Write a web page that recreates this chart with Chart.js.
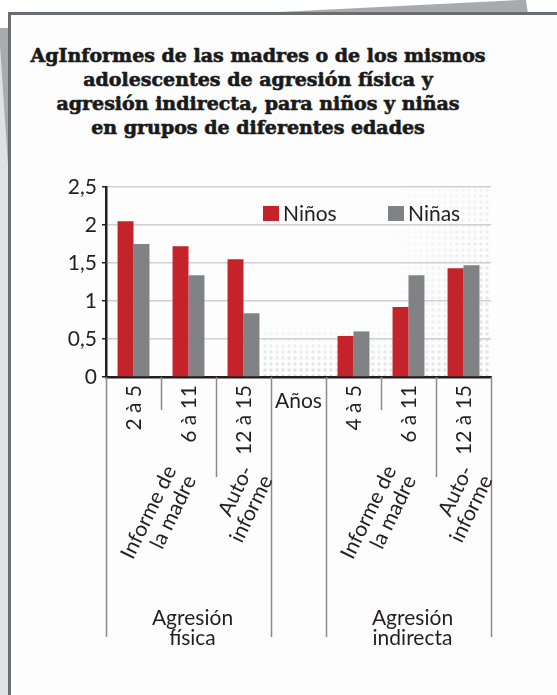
<!DOCTYPE html>
<html>
<head>
<meta charset="utf-8">
<script src="https://cdn.jsdelivr.net/npm/chart.js@4/dist/chart.umd.min.js"></script>
<style>
  html, body { margin: 0; padding: 0; background: #fff; }
  #page { position: relative; width: 557px; height: 695px; overflow: hidden; background: #fff; }
  .back-top { position: absolute; left: 0; top: 0; width: 557px; height: 14px; background: #a8aaad;
    clip-path: polygon(238px 14px, 520px 0, 526px 0, 528px 14px); }
  .back-strip { position: absolute; left: 0; top: 28px; width: 10px; height: 680px; background: #dfe1e3; }
  .back-left { position: absolute; left: 0; top: 0; width: 10px; height: 695px; background: #a9abae;
    clip-path: polygon(0 28px, 10px 28px, 10px 195px, 0 45px); }
  .card { position: absolute; left: 8px; top: 12px; width: 560px; height: 700px;
    border-top: 3px solid #6b6e71; border-left: 3px solid #6b6e71; background: #fdfdfd; }
  #title { position: absolute; left: 0; width: 516px; top: 43px; text-align: center;
    font-family: 'DejaVu Serif', serif; font-weight: bold; font-size: 19px; line-height: 24px; color: #1a1a1a;
    -webkit-text-stroke: 0.6px #1a1a1a; }
  canvas { position: absolute; left: 0; top: 0; }
</style>
</head>
<body>
<div id="page">
  <div class="back-top"></div>
  <div class="back-strip"></div>
  <div class="back-left"></div>
  <div class="card"></div>
  <div id="title"></div>
  <canvas id="chart" width="557" height="695"></canvas>
</div>
<script>
// datos
const titleLines = [
  'AgInformes de las madres o de los mismos',
  'adolescentes de agresión física y',
  'agresión indirecta, para niños y niñas',
  'en grupos de diferentes edades',
];
const edades = ['2 à 5', '6 à 11', '12 à 15', 'Años', '4 à 5', '6 à 11', '12 à 15'];
const ninos = [2.05, 1.72, 1.55, null, 0.54, 0.92, 1.43];
const ninas = [1.75, 1.34, 0.84, null, 0.60, 1.34, 1.47];
const serieNames = ['Niños', 'Niñas'];
const yTickLabels = ['0', '0,5', '1', '1,5', '2', '2,5'];
const informes = [
  { lines: ['Informe de', 'la madre'], cats: [0, 1] },
  { lines: ['Auto-', 'informe'], cats: [2, 2] },
  { lines: ['Informe de', 'la madre'], cats: [4, 5] },
  { lines: ['Auto-', 'informe'], cats: [6, 6] },
];
const agresiones = [
  { lines: ['Agresión', 'física'], cats: [0, 2] },
  { lines: ['Agresión', 'indirecta'], cats: [4, 6] },
];

const RED = '#c5232b', GRAY = '#808285', INK = '#231f20';
const FONT = '21px Lato';

document.getElementById('title').innerHTML = titleLines.join('<br>');

const groupOf = (list, i) => list.findIndex((g) => i >= g.cats[0] && i <= g.cats[1]);

// trama de puntos del fondo
const dotsBg = {
  id: 'dotsBg',
  beforeDraw(chart) {
    const { ctx, chartArea: a } = chart;
    ctx.save();
    ctx.fillStyle = '#c4c6c8';
    for (let y = a.top + 3; y < a.bottom; y += 6) {
      for (let x = a.left + 3; x < a.right; x += 6) {
        const r = (x - a.left) / a.width, b = (y - a.top) / a.height;
        let t = Math.max((r - 0.72) / 0.28 * (0.35 + 0.65 * b), r > 0.4 ? (b - 0.7) / 0.3 : 0);
        t = Math.min(1, t);
        if (t <= 0.05) continue;
        ctx.globalAlpha = 0.55 * t;
        ctx.beginPath();
        ctx.arc(x, y, 1.8, 0, Math.PI * 2);
        ctx.fill();
      }
    }
    ctx.restore();
  },
};

// leyenda, divisiones y etiquetas del eje x
const decor = {
  id: 'decor',
  afterDraw(chart) {
    const { ctx, chartArea: a, scales: { x } } = chart;
    const half = (x.getPixelForValue(1) - x.getPixelForValue(0)) / 2;
    const edge = (k) => (k < edades.length ? x.getPixelForValue(k) - half : x.getPixelForValue(k - 1) + half);
    ctx.save();

    // leyenda
    ctx.font = FONT;
    ctx.textBaseline = 'middle';
    ctx.textAlign = 'left';
    chart.data.datasets.forEach((ds, i) => {
      const lx = a.left + [157, 282][i];
      ctx.fillStyle = ds.backgroundColor;
      ctx.fillRect(lx, a.top + 19, 16, 15);
      ctx.fillStyle = INK;
      ctx.fillText(ds.label, lx + 20, a.top + 27);
    });

    // divisiones verticales
    ctx.strokeStyle = '#8a8c8f';
    ctx.lineWidth = 1.5;
    for (let k = 0; k <= edades.length; k++) {
      const ga = groupOf(agresiones, k - 1), gb = groupOf(agresiones, k);
      let len;
      if (ga < 0 || gb < 0 || ga !== gb) len = 260;
      else if (groupOf(informes, k - 1) !== groupOf(informes, k)) len = 100;
      else len = 33;
      const px = Math.round(edge(k)) + 0.5;
      ctx.beginPath();
      ctx.moveTo(px, a.bottom);
      ctx.lineTo(px, a.bottom + len);
      ctx.stroke();
    }

    ctx.fillStyle = INK;
    ctx.font = FONT;
    // edades (rotadas) y "Años"
    edades.forEach((lab, i) => {
      const cx = x.getPixelForValue(i);
      if (groupOf(agresiones, i) < 0) {
        ctx.textAlign = 'center';
        ctx.fillText(lab, cx, a.bottom + 24);
        return;
      }
      ctx.save();
      ctx.translate(cx + 1, a.bottom + 8);
      ctx.rotate(-Math.PI / 2);
      ctx.textAlign = 'right';
      ctx.fillText(lab, 0, 0);
      ctx.restore();
    });

    // tipo de informe (inclinado)
    const ang = 64 * Math.PI / 180;
    informes.forEach((g) => {
      const cx = (edge(g.cats[0]) + edge(g.cats[1] + 1)) / 2;
      const w = g.lines.reduce((s, l) => s + ctx.measureText(l).width, 0) / g.lines.length;
      ctx.save();
      ctx.translate(cx + (w / 2) * Math.cos(ang), a.bottom + 95);
      ctx.rotate(-ang);
      ctx.textAlign = 'right';
      g.lines.forEach((l, j) => ctx.fillText(l, 0, (j - (g.lines.length - 1) / 2) * 22));
      ctx.restore();
    });

    // tipo de agresión
    ctx.textAlign = 'center';
    agresiones.forEach((g) => {
      const cx = (edge(g.cats[0]) + edge(g.cats[1] + 1)) / 2;
      g.lines.forEach((l, j) => ctx.fillText(l, cx + 4, a.bottom + 241 + j * 20));
    });
    ctx.restore();
  },
};

new Chart(document.getElementById('chart'), {
  type: 'bar',
  data: {
    labels: edades,
    datasets: [
      { label: serieNames[0], data: ninos, backgroundColor: RED },
      { label: serieNames[1], data: ninas, backgroundColor: GRAY },
    ],
  },
  options: {
    responsive: false,
    devicePixelRatio: 1,
    animation: false,
    layout: { padding: { top: 187, left: 0, right: 66, bottom: 0 } },
    datasets: { bar: { categoryPercentage: 0.58, barPercentage: 1.0 } },
    plugins: { legend: { display: false }, tooltip: { enabled: false }, title: { display: false } },
    scales: {
      x: {
        grid: { display: false },
        border: { display: true, color: INK, width: 2.5 },
        ticks: { display: false },
        afterFit: (s) => { s.height = 318; },
      },
      y: {
        min: 0, max: 2.5,
        ticks: {
          stepSize: 0.5, color: INK, font: { family: 'Lato', size: 21 }, padding: 5,
          callback: (v, i) => yTickLabels[i],
        },
        grid: { color: '#cfd0d2', lineWidth: 1.5, tickColor: INK, tickLength: 4 },
        border: { display: true, color: INK, width: 2.5 },
        afterFit: (s) => { s.width = 106; },
      },
    },
  },
  plugins: [dotsBg, decor],
});
</script>
</body>
</html>
